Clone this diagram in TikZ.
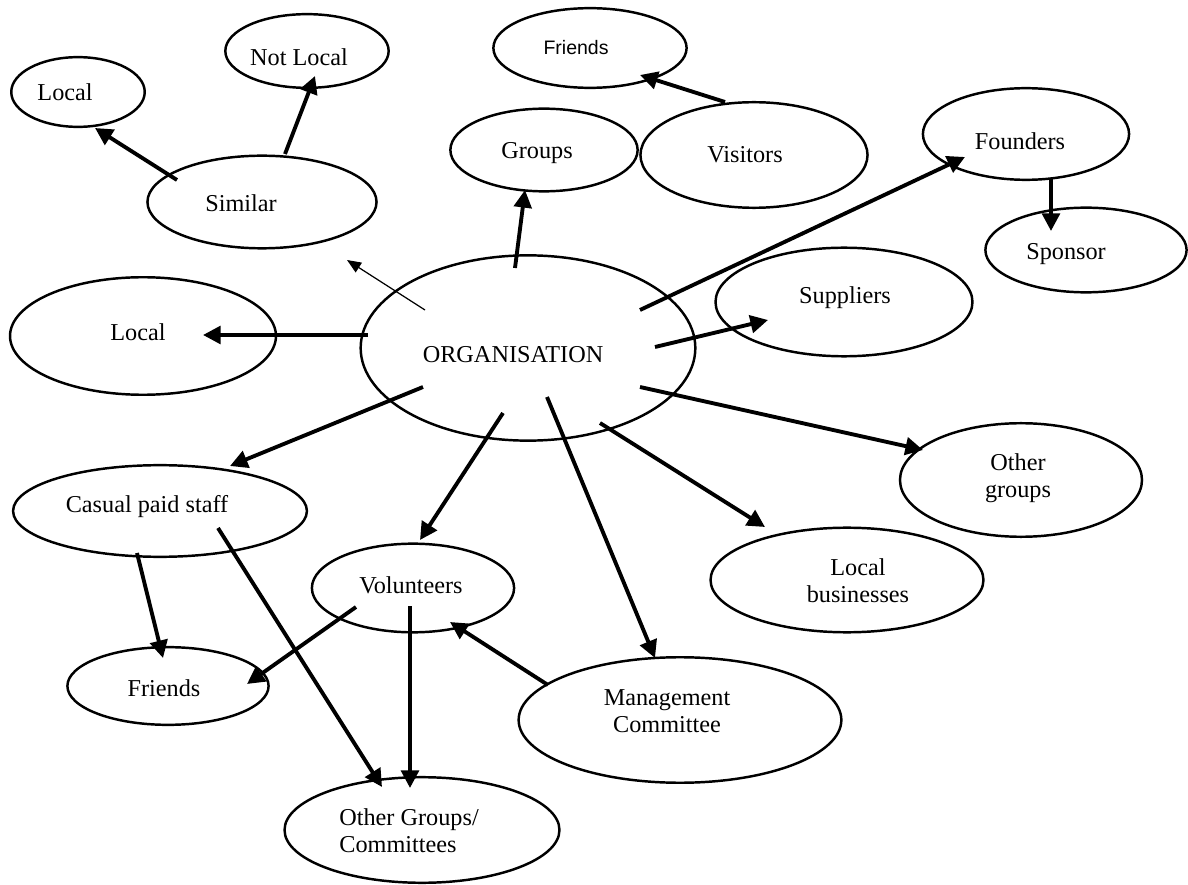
\documentclass[tikz,border=0pt]{standalone}
\usepackage{fontspec}
\setmainfont{Liberation Serif}
\newfontfamily\arialf{Liberation Sans}
\usetikzlibrary{shapes.geometric,arrows.meta}
\begin{document}
\begin{tikzpicture}[x=0.02cm,y=-0.02cm,
  el/.style={ellipse,draw,line width=1.4pt,inner sep=0pt},
  sz/.style 2 args={minimum width=#1*0.56693pt,minimum height=#2*0.56693pt},
  lab/.style={font=\fontsize{13.8}{15.3}\selectfont,align=center,inner sep=0pt},
  off/.style 2 args={xshift=#1*0.56693pt,yshift={-1*(#2)*0.56693pt}},
  arr/.style={line width=2.2pt,-{Triangle[length=10pt,width=10pt]}},
  thinarr/.style={line width=0.7pt,-{Triangle[length=8pt,width=6.5pt]}}]
\useasboundingbox (0,0) rectangle (1188,885);

% nodes
\node[el,sz={134}{70},label={[lab,off={-13}{0}]center:Local}] (locA) at (78,92) {};
\node[el,sz={164}{74},label={[lab,off={-8}{6}]center:Not Local}] (notloc) at (307,51) {};
\node[el,sz={230}{93},label={[lab,off={-21}{1}]center:Similar}] (similar) at (262,202) {};
\node[el,sz={194}{80},label={[lab,font=\arialf\fontsize{11.1}{13}\selectfont,off={-14}{0}]center:Friends}] (friendsT) at (590,48) {};
\node[el,sz={188}{83},label={[lab,off={-7}{3}]center:Groups}] (groups) at (544,150) {};
\node[el,sz={228}{106},label={[lab,off={-9}{0}]center:Visitors}] (visitors) at (754,155) {};
\node[el,sz={207}{92},label={[lab,off={-6}{7}]center:Founders}] (founders) at (1026,134) {};
\node[el,sz={202}{85},label={[lab,off={-20}{4}]center:Sponsor}] (sponsor) at (1086,250) {};
\node[el,sz={258}{109},label={[lab,off={1}{-4}]center:Suppliers}] (suppliers) at (844,302) {};
\node[el,sz={336}{186},label={[lab,off={-15}{7}]center:ORGANISATION}] (org) at (528,348) {};
\node[el,sz={267}{118},label={[lab,off={-5}{-4}]center:Local}] (locB) at (143,336) {};
\node[el,sz={243}{114},label={[lab,off={-3}{-2}]center:{Other\\groups}}] (othergr) at (1021,480) {};
\node[el,sz={274}{105},label={[lab,off={11}{1}]center:{Local\\businesses}}] (locbiz) at (847,580) {};
\node[el,sz={295}{92},label={[lab,off={-13}{-4}]center:Casual paid staff}] (casual) at (160,511) {};
\node[el,sz={203}{89},label={[lab,off={-2}{-3}]center:Volunteers}] (vol) at (413,588) {};
\node[el,sz={202}{78},label={[lab,off={-4}{2}]center:Friends}] (friendsB) at (168,686) {};
\node[el,sz={324}{126},label={[lab,off={-13}{-9}]center:{Management\\Committee}}] (mgmt) at (680,720) {};
\node[el,sz={276}{106},label={[lab,align=left,off={-13}{1}]center:{Other Groups/\\Committees}}] (ogc) at (422,830) {};

% connectors
\draw[arr] ([shift={(-85,-22)}]similar.center) -- ([shift={(17,36)}]locA.center);
\draw[arr] ([shift={(23,-48)}]similar.center) -- ([shift={(8,25)}]notloc.center);
\draw[thinarr] ([shift={(-103,-38)}]org.center) -- ([shift={(85,58)}]similar.center);
\draw[arr] ([shift={(-13,-80)}]org.center) -- ([shift={(-19,40)}]groups.center);
\draw[arr] ([shift={(-29,-53)}]visitors.center) -- ([shift={(50,27)}]friendsT.center);
\draw[arr] ([shift={(112,-38)}]org.center) -- ([shift={(-61,23)}]founders.center);
\draw[arr] ([shift={(25,44)}]founders.center) -- ([shift={(-35,-19)}]sponsor.center);
\draw[arr] ([shift={(127,-1)}]org.center) -- ([shift={(-76,18)}]suppliers.center);
\draw[arr] ([shift={(-160,-13)}]org.center) -- ([shift={(60,-1)}]locB.center);
\draw[arr] ([shift={(-105,39)}]org.center) -- ([shift={(70,-45)}]casual.center);
\draw[arr] ([shift={(-25,65)}]org.center) -- ([shift={(7,-48)}]vol.center);
\draw[arr] ([shift={(19,49)}]org.center) -- ([shift={(-25,-62)}]mgmt.center);
\draw[arr] ([shift={(72,75)}]org.center) -- ([shift={(-82,-53)}]locbiz.center);
\draw[arr] ([shift={(112,39)}]org.center) -- ([shift={(-98,-30)}]othergr.center);
\draw[arr] ([shift={(-23,42)}]casual.center) -- ([shift={(-5,-28)}]friendsB.center);
\draw[arr] ([shift={(58,17)}]casual.center) -- ([shift={(-40,-43)}]ogc.center);
\draw[arr] ([shift={(-57,19)}]vol.center) -- ([shift={(79,-2)}]friendsB.center);
\draw[arr] ([shift={(-3,18)}]vol.center) -- ([shift={(-12,-42)}]ogc.center);
\draw[arr] ([shift={(-132,-35)}]mgmt.center) -- ([shift={(37,34)}]vol.center);
\end{tikzpicture}
\end{document}
